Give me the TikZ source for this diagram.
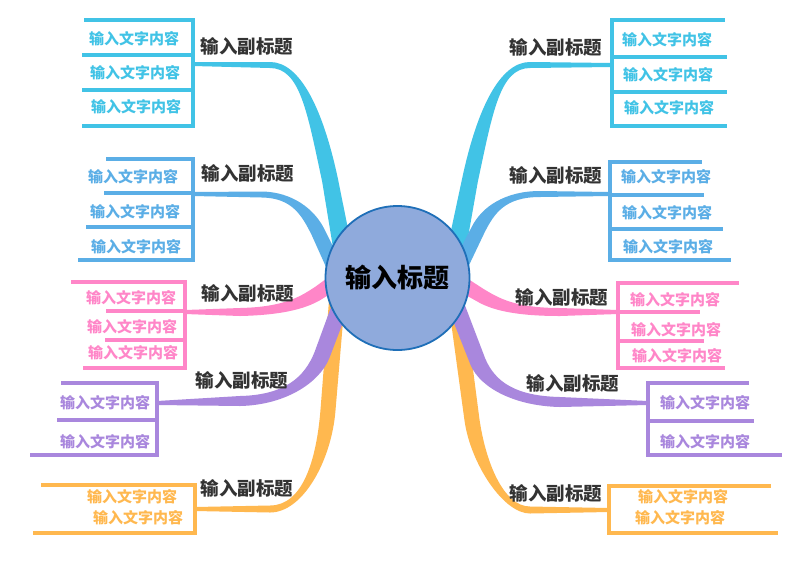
\documentclass[tikz,border=0pt]{standalone}
\usepackage{fontspec}
\setmainfont{Noto Sans CJK SC}
\usetikzlibrary{calc}
\definecolor{cy}{HTML}{41C3E6}
\definecolor{bl}{HTML}{5BAEE6}
\definecolor{pk}{HTML}{FF86C8}
\definecolor{pu}{HTML}{A987DD}
\definecolor{og}{HTML}{FFB84F}
\definecolor{cfill}{HTML}{8FAADC}
\definecolor{cline}{HTML}{1F6FB8}
\definecolor{subc}{HTML}{333333}
% half widths: at bracket, at bend start, at end of bend, at hub
\newcommand\setw[4]{\def\bwA{#1}\def\bwB{#2}\def\bwC{#3}\def\bwD{#4}}
% tapered branch: colour, P0 (bracket), Q, C1, C2, E, F (inside hub)
\newcommand\branch[7]{\fill[#1] ($(#2)!\bwA!90:(#3)$) -- ($(#3)!\bwB!-90:(#2)$) .. controls ($(#4)!\bwB!-90:(#3)$) and ($(#5)!\bwC!90:(#6)$) .. ($(#6)!\bwC!-90:(#5)$) -- ($(#7)!\bwD!-90:(#6)$) -- ($(#7)!\bwD!90:(#6)$) -- ($(#6)!\bwC!90:(#5)$) .. controls ($(#5)!\bwC!-90:(#6)$) and ($(#4)!\bwB!90:(#3)$) .. ($(#3)!\bwB!90:(#2)$) -- ($(#2)!\bwA!-90:(#3)$) -- cycle;}
\tikzset{
  item/.style={font=\bfseries\fontsize{15}{15}\selectfont, inner sep=0pt},
  subt/.style={font=\bfseries\fontsize{18.5}{18.5}\selectfont, text=subc, inner sep=0pt},
  brk/.style={line width=4.5pt, line cap=rect},
  hub/.style={circle, minimum size=144pt, inner sep=0pt, fill=cfill, draw=cline, line width=1.8pt,
     font=\bfseries\fontsize{26}{26}\selectfont, text=black}
}
\begin{document}
\begin{tikzpicture}[x=1pt,y=-1pt]
\fill[white] (0,0) rectangle (800,566);
\useasboundingbox (0,0) rectangle (800,566);

% ---------- branches ----------
\setw{2pt}{3pt}{8pt}{9.5pt}
\branch{cy}{193,64}{270,65}{300,65}{315,110}{330,180}{345,262}
\branch{cy}{612,65}{530,65}{500,65}{485,110}{470,180}{454,262}
\setw{2pt}{3pt}{7pt}{8pt}
\branch{bl}{193,194}{262,194.5}{292,195}{308,212}{318,232}{337,272}
\branch{bl}{610,194}{540,194}{505,194}{488,210}{478,230}{455,276}
\setw{2pt}{3.5pt}{7.5pt}{8pt}
\branch{og}{195,509}{270,509}{303,509}{324,460}{328,410}{340,262}
\branch{og}{609,510}{530,510}{503,510}{478,462}{472,420}{452,270}
\setw{2pt}{5pt}{8pt}{8.5pt}
\branch{pu}{157,403}{240,401}{285,400}{312,380}{322,355}{350,280}
\branch{pu}{648,403}{560,402}{515,401}{488,385}{478,362}{450,290}
\setw{2pt}{4pt}{7pt}{8pt}
\branch{pk}{185,312}{240,312}{285,311}{305,302}{320,292}{345,275}
\branch{pk}{618,312}{560,312}{515,312}{495,304}{480,295}{455,280}

% ---------- hub ----------
\node[hub] (hub) at (397.5,278) {输入标题};

% ---------- brackets (left) ----------
\draw[brk, cy] (193,20) -- (193,126) (86,20) -- (193,20) (84,55) -- (193,55) (84,90) -- (193,90) (84,126) -- (193,126);
\draw[brk, bl] (193,159) -- (193,260) (108,159) -- (193,159) (106,193) -- (193,193) (88,227) -- (193,227) (80,260) -- (193,260);
\draw[brk, pk] (185,282) -- (185,368) (73,282) -- (185,282) (108,311) -- (185,311) (107,340) -- (185,340) (85,368) -- (185,368);
\draw[brk, pu] (157,383) -- (157,455) (63,383) -- (157,383) (59,420) -- (157,420) (32,455) -- (157,455);
\draw[brk, og] (195,485) -- (195,533) (43,485) -- (195,485) (35,533) -- (195,533);
% ---------- brackets (right) ----------
\draw[brk, cy] (612,20) -- (612,126) (612,20) -- (723,20) (612,57) -- (725,57) (612,92) -- (725,92) (612,126) -- (725,126);
\draw[brk, bl] (610,162) -- (610,260) (610,162) -- (700,162) (610,195) -- (702,195) (610,229) -- (721,229) (610,260) -- (729,260);
\draw[brk, pk] (618,283) -- (618,368) (618,283) -- (737,283) (618,312) -- (698,312) (618,341) -- (702,341) (618,368) -- (723,368);
\draw[brk, pu] (648,383) -- (648,455) (648,383) -- (747,383) (648,421) -- (752,421) (648,455) -- (780,455);
\draw[brk, og] (609,486) -- (609,533) (609,486) -- (769,486) (609,533) -- (776,533);

% ---------- subtitles ----------
\node[subt] (s1) at (247,46) {输入副标题};
\node[subt] (s2) at (248,173) {输入副标题};
\node[subt] (s3) at (248,293) {输入副标题};
\node[subt] (s4) at (242,380) {输入副标题};
\node[subt] (s5) at (247,488) {输入副标题};
\node[subt] (s6) at (556,47) {输入副标题};
\node[subt] (s7) at (556,175) {输入副标题};
\node[subt] (s8) at (562,297) {输入副标题};
\node[subt] (s9) at (573,383) {输入副标题};
\node[subt] (s10) at (556,493) {输入副标题};

% ---------- items (left) ----------
\node[item, text=cy] (a1) at (134,39) {输入文字内容};
\node[item, text=cy] (a2) at (135,73) {输入文字内容};
\node[item, text=cy] (a3) at (136,107) {输入文字内容};
\node[item, text=bl] (b1) at (133,177) {输入文字内容};
\node[item, text=bl] (b2) at (135,212) {输入文字内容};
\node[item, text=bl] (b3) at (136,247) {输入文字内容};
\node[item, text=pk] (c1) at (131,298) {输入文字内容};
\node[item, text=pk] (c2) at (132,327) {输入文字内容};
\node[item, text=pk] (c3) at (133,353) {输入文字内容};
\node[item, text=pu] (d1) at (105,403) {输入文字内容};
\node[item, text=pu] (d2) at (105,442) {输入文字内容};
\node[item, text=og] (e1) at (132,497) {输入文字内容};
\node[item, text=og] (e2) at (138,518) {输入文字内容};
% ---------- items (right) ----------
\node[item, text=cy] (f1) at (667,40) {输入文字内容};
\node[item, text=cy] (f2) at (668,75) {输入文字内容};
\node[item, text=cy] (f3) at (669,108) {输入文字内容};
\node[item, text=bl] (g1) at (666,177) {输入文字内容};
\node[item, text=bl] (g2) at (667,213) {输入文字内容};
\node[item, text=bl] (g3) at (668,247) {输入文字内容};
\node[item, text=pk] (h1) at (675,300) {输入文字内容};
\node[item, text=pk] (h2) at (676,330) {输入文字内容};
\node[item, text=pk] (h3) at (677,356) {输入文字内容};
\node[item, text=pu] (i1) at (705,403) {输入文字内容};
\node[item, text=pu] (i2) at (705,442) {输入文字内容};
\node[item, text=og] (j1) at (683,497) {输入文字内容};
\node[item, text=og] (j2) at (680,518) {输入文字内容};
\end{tikzpicture}
\end{document}
